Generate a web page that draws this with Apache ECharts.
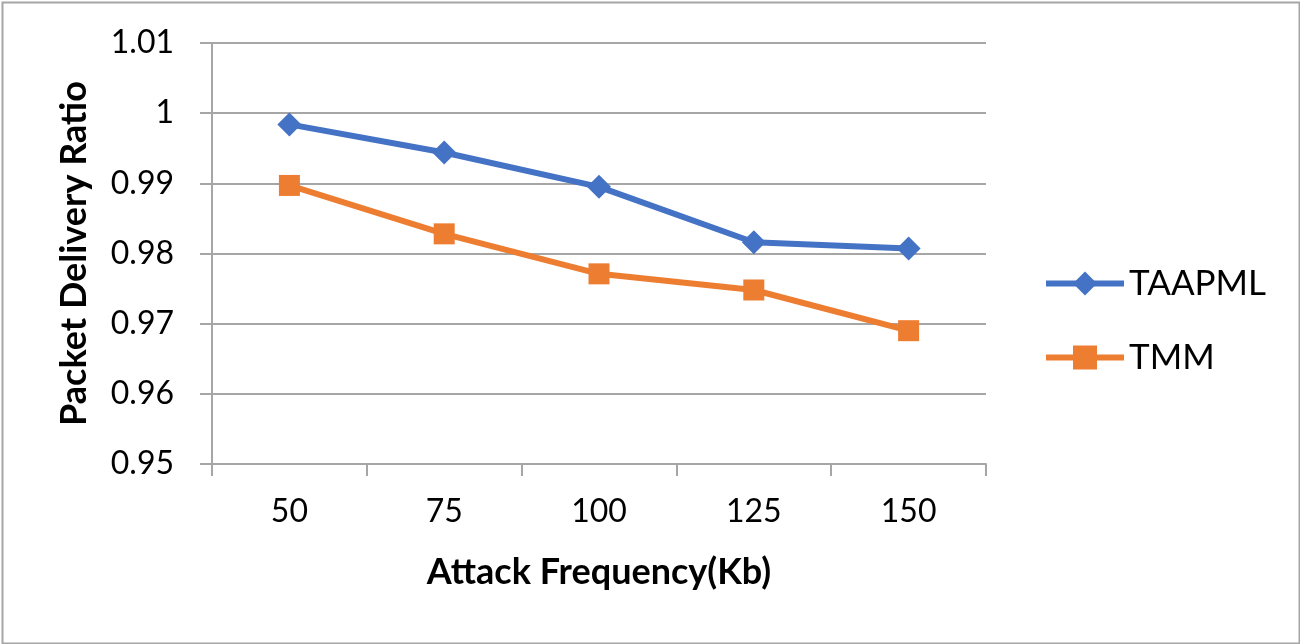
<!DOCTYPE html>
<html>
<head>
<meta charset="utf-8">
<script src="https://cdn.jsdelivr.net/npm/echarts@6/dist/echarts.min.js"></script>
<style>
html,body{margin:0;padding:0;background:#fff;}
#c{width:1300px;height:644px;}
</style>
</head>
<body>
<div id="c"></div>
<script>
const categories = ['50', '75', '100', '125', '150'];
const taapml = [0.9984, 0.9944, 0.9895, 0.9816, 0.9807];
const tmm = [0.9897, 0.9828, 0.9771, 0.9748, 0.9690];
const yMin = 0.95, yMax = 1.01, yStep = 0.01;

const chart = echarts.init(document.getElementById('c'));
const font = 'Lato, "Open Sans", sans-serif';
chart.setOption({
  animation: false,
  backgroundColor: '#fff',
  graphic: [{
    type: 'rect', left: 0, top: 0,
    shape: {x: 1, y: 1, width: 1297, height: 641},
    style: {fill: 'none', stroke: '#A6A6A6', lineWidth: 2}
  }],
  grid: {left: 212, right: 314, top: 43, bottom: 180},
  legend: {
    orient: 'vertical',
    left: 1043, top: 266, padding: 0,
    itemWidth: 78, itemHeight: 30, itemGap: 39,
    textStyle: {fontFamily: font, fontSize: 35, color: '#000'},
    lineStyle: {width: 6},
    data: ['TAAPML', 'TMM']
  },
  xAxis: {
    type: 'category',
    data: categories,
    boundaryGap: true,
    name: 'Attack Frequency(Kb)',
    nameLocation: 'middle',
    nameGap: 90,
    nameTextStyle: {fontFamily: font, fontSize: 36, fontWeight: 'bold', color: '#000'},
    axisLine: {lineStyle: {color: '#A6A6A6', width: 2}},
    axisTick: {show: true, length: 12, lineStyle: {color: '#A6A6A6', width: 2}},
    axisLabel: {fontFamily: font, fontSize: 32, color: '#000', margin: 32}
  },
  yAxis: {
    type: 'value',
    min: yMin, max: yMax, interval: yStep,
    name: 'Packet Delivery Ratio',
    nameLocation: 'middle',
    nameGap: 120,
    nameRotate: 90,
    nameTextStyle: {fontFamily: font, fontSize: 36, fontWeight: 'bold', color: '#000'},
    axisLine: {show: true, lineStyle: {color: '#A6A6A6', width: 2}},
    axisTick: {show: true, length: 12, lineStyle: {color: '#A6A6A6', width: 2}},
    splitLine: {lineStyle: {color: '#A6A6A6', width: 2}},
    axisLabel: {
      fontFamily: font, fontSize: 32, color: '#000', margin: 38,
      formatter: v => String(parseFloat(v.toFixed(4)))
    }
  },
  series: [
    {
      name: 'TAAPML', type: 'line', data: taapml,
      symbol: 'diamond', symbolSize: 24,
      lineStyle: {color: '#4472C4', width: 6},
      itemStyle: {color: '#4472C4'}
    },
    {
      name: 'TMM', type: 'line', data: tmm,
      symbol: 'rect', symbolSize: 21,
      lineStyle: {color: '#ED7D31', width: 6},
      itemStyle: {color: '#ED7D31'}
    }
  ]
});
</script>
</body>
</html>
